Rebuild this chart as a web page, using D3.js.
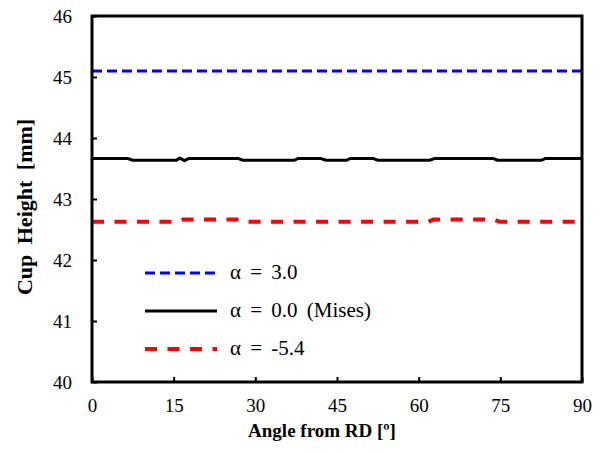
<!DOCTYPE html>
<html>
<head>
<meta charset="utf-8">
<script src="https://cdn.jsdelivr.net/npm/d3@7"></script>
<style>
  body { margin: 0; background: #fff; }
  svg { display: block; }
  text { font-family: "Liberation Serif", "Times New Roman", serif; fill: #000; }
</style>
</head>
<body>
<div id="chart"></div>
<script>
// data
var xTicks = [0, 15, 30, 45, 60, 75, 90];
var yTicks = [40, 41, 42, 43, 44, 45, 46];

var blueAngle = [0, 90];
var blueHeight = [45.10, 45.10];

var blackAngle = [0, 6.5, 7.5, 15.5, 16.1, 17.0, 17.8, 26.8, 27.7, 37.2, 37.9, 41.9, 43.0, 46.8, 47.4, 51.6, 52.5, 62.0, 63.0, 73.6, 74.5, 82.6, 83.3, 90];
var blackHeight = [43.665, 43.665, 43.635, 43.635, 43.67, 43.628, 43.665, 43.665, 43.635, 43.635, 43.665, 43.665, 43.635, 43.635, 43.665, 43.665, 43.635, 43.635, 43.665, 43.665, 43.635, 43.635, 43.665, 43.665];

var redAngle = [0, 15.8, 16.8, 27.3, 28.3, 61.8, 62.8, 73.8, 74.8, 90];
var redHeight = [42.628, 42.628, 42.665, 42.665, 42.628, 42.628, 42.665, 42.665, 42.628, 42.628];

var seriesNames = ["\u03b1 = 3.0", "\u03b1 = 0.0 (Mises)", "\u03b1 = -5.4"];

// set the dimensions and margins of the graph
var W = 603, H = 454,
    margin = {top: 16, right: 21, bottom: 72, left: 92},
    width = W - margin.left - margin.right,
    height = H - margin.top - margin.bottom;

var svg = d3.select("#chart").append("svg")
    .attr("width", W)
    .attr("height", H);

var g = svg.append("g")
    .attr("transform", "translate(" + margin.left + "," + margin.top + ")");

var x = d3.scaleLinear().domain([0, 90]).range([0, width]);
var y = d3.scaleLinear().domain([40, 46]).range([height, 0]);

function zip(a, b) {
    return a.map(function(d, i) { return {angle: d, h: b[i]}; });
}

var series = [
    {data: zip(blueAngle, blueHeight), color: "#0000ff", width: 3, dash: "10,5"},
    {data: zip(blackAngle, blackHeight), color: "#000", width: 3, dash: null},
    {data: zip(redAngle, redHeight), color: "#ff0000", width: 4, dash: "12,10.5"}
];

var line = d3.line()
    .x(function(d) { return x(d.angle); })
    .y(function(d) { return y(d.h); });

series.forEach(function(s) {
    g.append("path")
        .datum(s.data)
        .attr("fill", "none")
        .attr("stroke", s.color)
        .attr("stroke-width", s.width)
        .attr("stroke-dasharray", s.dash)
        .attr("stroke-linejoin", "round")
        .attr("d", line);
});

// axes with inward ticks
var xAxis = g.append("g")
    .attr("transform", "translate(0," + height + ")")
    .call(d3.axisBottom(x).tickValues(xTicks).tickSize(-5).tickPadding(17));
var yAxis = g.append("g")
    .call(d3.axisLeft(y).tickValues(yTicks).tickSize(-5).tickPadding(20).tickFormat(d3.format("d")));

[xAxis, yAxis].forEach(function(a) {
    a.attr("font-family", "'Liberation Serif', serif").attr("font-size", 19);
    a.select(".domain").remove();
    a.selectAll(".tick line").attr("stroke", "#000").attr("stroke-width", 2);
    a.selectAll(".tick text")
        .style("font-family", "'Liberation Serif', serif")
        .style("font-size", "19px");
});

// frame
g.append("rect")
    .attr("width", width)
    .attr("height", height)
    .attr("fill", "none")
    .attr("stroke", "#000")
    .attr("stroke-width", 3);

// axis titles
svg.append("text")
    .attr("x", 322)
    .attr("y", 437)
    .attr("text-anchor", "middle")
    .style("font-size", "19px")
    .style("font-weight", "bold")
    .text("Angle from RD [\u00ba]");

svg.append("text")
    .attr("transform", "translate(32,207) rotate(-90)")
    .attr("text-anchor", "middle")
    .style("font-size", "22px")
    .style("font-weight", "bold")
    .style("word-spacing", "5px")
    .text("Cup Height [mm]");

// legend
var legend = g.append("g").attr("transform", "translate(53,257)");
series.forEach(function(s, i) {
    var row = legend.append("g").attr("transform", "translate(0," + (i * 38) + ")");
    row.append("line")
        .attr("x1", 0).attr("x2", 72)
        .attr("stroke", s.color)
        .attr("stroke-width", s.width)
        .attr("stroke-dasharray", s.dash);
    row.append("text")
        .attr("x", 85)
        .attr("y", 6)
        .style("font-size", "21px")
        .style("word-spacing", "4px")
        .text(seriesNames[i]);
});
</script>
</body>
</html>
